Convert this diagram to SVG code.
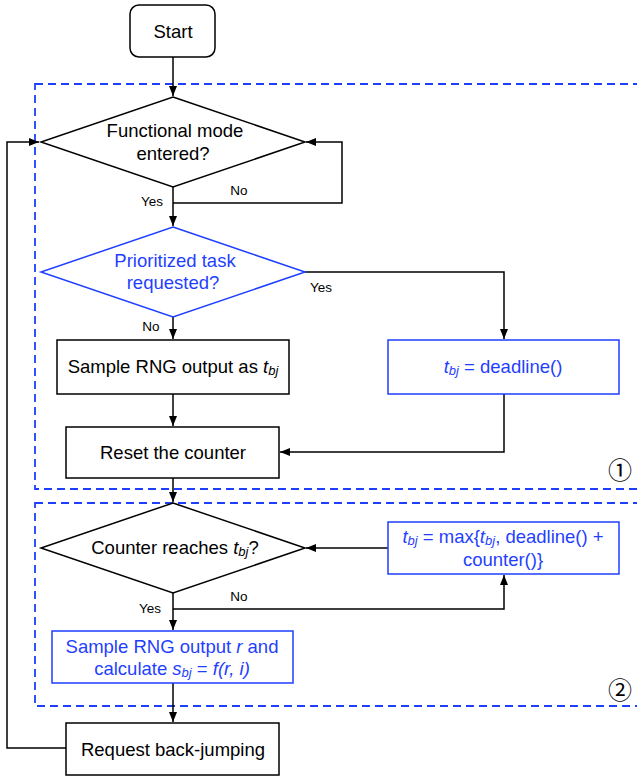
<svg xmlns="http://www.w3.org/2000/svg" width="637" height="778" viewBox="0 0 637 778">
<style>
.b{fill:#fff;stroke:#000;stroke-width:1.5}
.bb{fill:#fff;stroke:#1f3fff;stroke-width:1.5}
.t{font-family:"Liberation Sans",Arial,sans-serif;font-size:18.5px;fill:#000;text-anchor:middle}
.tb{font-family:"Liberation Sans",Arial,sans-serif;font-size:18.5px;fill:#1f3fff;text-anchor:middle}
.l{font-family:"Liberation Sans",Arial,sans-serif;font-size:13.5px;fill:#000;text-anchor:middle}
.c{fill:none;stroke:#000;stroke-width:1.5}
.d{fill:none;stroke:#1f3fff;stroke-width:1.8;stroke-dasharray:8 5}
.s{font-size:13px;font-style:italic}
.i{font-style:italic}
.n{font-family:"DejaVu Serif","Noto Sans CJK JP",serif;font-size:24px;fill:#000;text-anchor:middle}
</style>
<defs>
<marker id="a" markerWidth="10" markerHeight="8" refX="10" refY="4" orient="auto" markerUnits="userSpaceOnUse">
<path d="M0,0 L10,4 L0,8 Z" fill="#000"/>
</marker>
</defs>
<g id="regions">
<rect class="d" x="35" y="84" width="612" height="405"/>
<rect class="d" x="35" y="503" width="612" height="203"/>
<text class="n" x="620" y="479">①</text>
<text class="n" x="620" y="699">②</text>
</g>
<g id="connectors">
<path class="c" d="M173,57 V96" marker-end="url(#a)"/>
<path class="c" d="M173,187 V226" marker-end="url(#a)"/>
<path class="c" d="M173,203 H342 V142 H306" marker-end="url(#a)"/>
<path class="c" d="M305,272 H504 V339" marker-end="url(#a)"/>
<path class="c" d="M173,317 V339" marker-end="url(#a)"/>
<path class="c" d="M173,394 V426" marker-end="url(#a)"/>
<path class="c" d="M504,394 V452 H280" marker-end="url(#a)"/>
<path class="c" d="M173,478 V502" marker-end="url(#a)"/>
<path class="c" d="M388,548 H306" marker-end="url(#a)"/>
<path class="c" d="M173,593 V630" marker-end="url(#a)"/>
<path class="c" d="M173,609 H504 V575" marker-end="url(#a)"/>
<path class="c" d="M173,683 V722" marker-end="url(#a)"/>
<path class="c" d="M66,748 H7 V142 H39" marker-end="url(#a)"/>
<text class="l" x="239" y="195">No</text>
<text class="l" x="152" y="206">Yes</text>
<text class="l" x="321" y="292">Yes</text>
<text class="l" x="151" y="331">No</text>
<text class="l" x="239" y="601">No</text>
<text class="l" x="150" y="613">Yes</text>
</g>
<g id="start">
<rect class="b" x="130" y="5" width="85" height="52" rx="9"/>
<text class="t" x="173" y="38">Start</text>
</g>
<g id="functional">
<polygon class="b" points="173,97 305,142 173,187 41,142"/>
<text class="t" x="175" y="137">Functional mode</text>
<text class="t" x="173" y="160">entered?</text>
</g>
<g id="prioritized">
<polygon class="bb" points="173,227 305,272 173,317 41,272"/>
<text class="tb" x="175" y="267">Prioritized task</text>
<text class="tb" x="173" y="289">requested?</text>
</g>
<g id="sample1">
<rect class="b" x="57" y="340" width="232" height="54"/>
<text class="t" x="173" y="373">Sample RNG output as <tspan class="i">t</tspan><tspan class="s" dy="2">bj</tspan></text>
</g>
<g id="deadline">
<rect class="bb" x="388" y="340" width="231" height="54"/>
<text class="tb" x="503" y="373"><tspan class="i">t</tspan><tspan class="s" dy="2">bj</tspan><tspan dy="-2"> = deadline()</tspan></text>
</g>
<g id="reset">
<rect class="b" x="66" y="427" width="213" height="51"/>
<text class="t" x="173" y="459">Reset the counter</text>
</g>
<g id="counter">
<polygon class="b" points="173,503 305,548 173,593 41,548"/>
<text class="t" x="175" y="554">Counter reaches <tspan class="i">t</tspan><tspan class="s" dy="2">bj</tspan><tspan dy="-2">?</tspan></text>
</g>
<g id="max">
<rect class="bb" x="388" y="522" width="231" height="52"/>
<text class="tb" x="503" y="543"><tspan class="i">t</tspan><tspan class="s" dy="2">bj</tspan><tspan dy="-2"> = max{</tspan><tspan class="i">t</tspan><tspan class="s" dy="2">bj</tspan><tspan dy="-2">, deadline() +</tspan></text>
<text class="tb" x="503" y="566">counter()}</text>
</g>
<g id="sample2">
<rect class="bb" x="52" y="631" width="241" height="52"/>
<text class="tb" x="172" y="653">Sample RNG output <tspan class="i">r</tspan> and</text>
<text class="tb" x="172" y="675">calculate <tspan class="i">s</tspan><tspan class="s" dy="2">bj</tspan><tspan dy="-2"> = </tspan><tspan class="i">f(r, i)</tspan></text>
</g>
<g id="backjump">
<rect class="b" x="66" y="723" width="213" height="52"/>
<text class="t" x="173" y="756">Request back-jumping</text>
</g>
</svg>
